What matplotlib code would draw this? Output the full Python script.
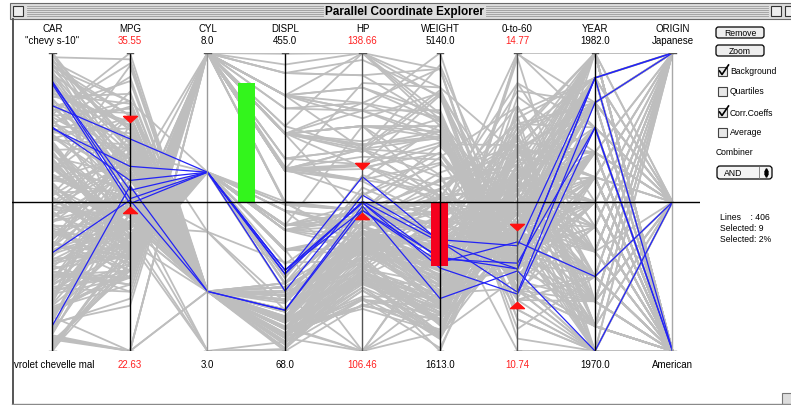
import numpy as np
import matplotlib.pyplot as plt
from matplotlib.patches import Rectangle, FancyBboxPatch
from matplotlib.collections import LineCollection

nan = np.nan

# cars table, one list per column, rows in dataset order (grouped by model year)
mpg = [18, 15, 18, 16, 17, 15, 14, 14, nan, nan, nan, nan, 24, 22, 21, 27, 26, 25, 26, 10, 9,
       27, 28, 25, nan, 19, 16, 14, 14, 14, 12, 13, 18, 22, 30, 31, 35,
       24, 23, 21, 13, 15, 14, 17, 11, 13, 19, 18, 21, 26, 28, 23,
       13, 14, 12, 13, 12, 18, 16, 23, 11, 18, 20, 18, 21, 16, 29, 26, 20, 24,
       20, 21, 31, 26, 32, 16, 13, 14, 29, 31, 24, 26,
       19, 15, 16, 14, 17, 21, 20, 13, 29, 23, 24, 33,
       28, 25, 17.5, 15.5, 14.5, 22, 24, 29, 20, 29.5, 32, 20, 19, 16.5, 16.5,
       31.5, 36, 25.5, 17.5, 17, 15, 20.5, 18.5, 16, 15.5, 29, 24.5, 30.5, 22, 21.5, 21.5,
       43.1, 36.1, 39.4, 19.9, 20.2, 19.2, 20.5, 25.1, 18.6, 17.7, 17.5, 27.5, 23.2, 20.3, 17, 16.2, 31.5,
       21.5, 22.3, 17, 16.5, 16.9, 18.5, 31.9, 35.7, 25.4, 27.2, 23.9, 34.2, 37.3, 28.4, 28.8, 26.8, 33.5,
       41.5, 38.1, 28, 24.3, 19.1, 29.8, 37, 46.6, 27.9, 43.4, 36.4, 30, 40.9, 32.7, 23.7, 23.6, 32.4,
       27.2, 25.8, 39.1, 35.1, 37.7, 34.7, 29.9, 34.5, 32.9, 28.1, 30.7, 23.5, 25.4, 24.2, 22.4, 26.6, 17.6,
       28, 34, 29, 24, 36, 31, 38, 36, 34, 25, 38, 32, 27, 44, 32, 28, 31]
cyl = [8, 8, 8, 8, 8, 8, 8, 8, 4, 8, 8, 8, 4, 6, 6, 4, 4, 4, 4, 8, 8,
       4, 4, 4, 4, 6, 6, 8, 8, 8, 8, 8, 6, 4, 4, 4, 4,
       4, 4, 4, 8, 8, 8, 8, 8, 8, 3, 4, 4, 4, 4, 4,
       8, 8, 8, 8, 8, 6, 6, 6, 8, 6, 4, 3, 6, 8, 4, 4, 6, 4,
       6, 6, 4, 4, 4, 6, 8, 8, 4, 4, 4, 4,
       6, 6, 8, 8, 6, 6, 8, 8, 4, 4, 4, 4,
       4, 4, 8, 8, 8, 6, 6, 4, 6, 4, 4, 4, 6, 6, 8,
       4, 4, 4, 8, 8, 8, 6, 6, 8, 8, 4, 4, 4, 6, 4, 3,
       4, 4, 4, 8, 8, 6, 6, 4, 6, 6, 8, 4, 4, 5, 6, 6, 4,
       6, 4, 8, 8, 8, 8, 4, 4, 5, 4, 8, 4, 4, 4, 6, 6, 4,
       4, 4, 4, 4, 6, 4, 4, 4, 4, 4, 5, 4, 4, 6, 3, 4, 4,
       4, 4, 4, 4, 4, 4, 4, 4, 4, 4, 6, 6, 6, 6, 6, 8, 6,
       4, 4, 4, 4, 4, 4, 4, 4, 4, 6, 6, 4, 4, 4, 4, 4, 4]
displ = [307, 350, 318, 304, 302, 429, 454, 455, 133, 350, 383, 302, 113, 198, 200, 97, 97, 110, 121, 360, 304,
         97, 140, 98, 97, 232, 225, 350, 400, 351, 383, 400, 258, 140, 79, 71, 72,
         113, 97, 122, 350, 318, 351, 304, 429, 400, 70, 121, 120, 96, 97, 120,
         350, 302, 429, 440, 455, 225, 250, 198, 400, 232, 97, 70, 155, 400, 68, 98, 156, 121,
         198, 200, 79, 122, 71, 258, 350, 302, 98, 76, 120, 108,
         225, 250, 400, 351, 231, 231, 262, 302, 97, 140, 134, 91,
         107, 140, 305, 304, 351, 250, 200, 85, 225, 97, 85, 130, 156, 168, 350,
         98, 79, 122, 305, 260, 302, 231, 250, 400, 400, 97, 151, 98, 146, 121, 80,
         90, 98, 85, 260, 302, 231, 200, 140, 225, 231, 318, 134, 156, 131, 163, 163, 89,
         231, 140, 305, 351, 350, 360, 89, 98, 183, 141, 260, 105, 91, 151, 173, 173, 151,
         98, 89, 151, 151, 225, 134, 119, 86, 156, 90, 121, 146, 85, 168, 70, 140, 107,
         135, 156, 79, 81, 89, 105, 98, 100, 119, 141, 145, 173, 168, 146, 231, 350, 225,
         112, 112, 135, 140, 105, 91, 105, 120, 108, 181, 262, 144, 151, 97, 135, 120, 119]
hp = [130, 165, 150, 150, 140, 198, 220, 225, 115, 165, 175, 140, 95, 95, 85, 88, 46, 87, 113, 215, 193,
      88, 90, nan, 48, 100, 105, 165, 175, 153, 180, 175, 110, 72, 70, 65, 69,
      95, 54, 86, 165, 150, 153, 150, 208, 190, 97, 112, 87, 69, 92, 97,
      175, 137, 198, 215, 225, 105, 100, 95, 150, 100, 88, 90, 107, 230, 49, 90, 122, 110,
      95, nan, 67, 80, 65, 110, 150, 140, 83, 52, 97, 93,
      95, 72, 170, 148, 110, 110, 110, 129, 75, 83, 96, 53,
      86, 92, 140, 120, 152, 105, 81, 52, 100, 71, 70, 102, 108, 120, 180,
      68, 58, 96, 145, 110, 130, 105, 98, 180, 190, 78, 88, 63, 97, 110, 110,
      48, 66, 70, 110, 139, 105, 95, 88, 110, 165, 140, 95, 105, 103, 125, 133, 71,
      115, 88, 130, 138, 155, 150, 71, 80, 77, 71, 90, 70, 69, 90, 115, 115, 90,
      76, 60, 90, 90, 90, 90, 92, 65, 105, 48, 67, 67, nan, 132, 100, nan, 72,
      84, 92, 58, 60, 62, 63, 65, nan, 100, 80, 76, 110, 116, 120, 110, 105, 85,
      88, 88, 84, 92, 74, 68, 63, 88, 70, 110, 85, 96, 90, 52, 84, 79, 82]
weight = [3504, 3693, 3436, 3433, 3449, 4341, 4354, 4425, 3090, 4142, 4166, 3353, 2372, 2833, 2587, 2130, 1835, 2672, 2234, 4615, 4732,
          2130, 2264, 2046, 1978, 2634, 3439, 4209, 4464, 4154, 4955, 5140, 2962, 2408, 2074, 1773, 1613,
          2278, 2254, 2226, 4274, 4135, 4129, 3672, 4633, 4422, 2330, 2933, 2979, 2189, 2288, 2506,
          4100, 4042, 4952, 4735, 4951, 3121, 3278, 2904, 4997, 2789, 2279, 2124, 2472, 4278, 1867, 2265, 2807, 2660,
          3102, 2875, 1950, 2451, 1836, 3632, 4699, 4638, 2219, 1649, 2489, 2391,
          3264, 3432, 4668, 4657, 3907, 3039, 3221, 3169, 2171, 2639, 2702, 1795,
          2464, 2572, 4215, 3962, 4215, 3353, 3012, 2035, 3651, 1825, 1990, 3150, 2930, 3820, 4380,
          2045, 1825, 2300, 3880, 4060, 4295, 3425, 3525, 4220, 4325, 1940, 2740, 2051, 2815, 2600, 2720,
          1985, 1800, 2070, 3365, 3570, 3535, 3155, 2720, 3620, 3445, 4080, 2560, 2745, 2830, 3140, 3410, 1990,
          3245, 2890, 3840, 3955, 4360, 3940, 1925, 1915, 3530, 3190, 3420, 2200, 2130, 2670, 2595, 2700, 2556,
          2144, 1968, 2678, 3003, 3381, 2711, 2434, 2110, 2800, 2335, 2950, 3250, 1835, 2910, 2420, 2905, 2290,
          2490, 2620, 1755, 1760, 2050, 2215, 2380, 2320, 2615, 3230, 3160, 2725, 2900, 2930, 3415, 3725, 3465,
          2605, 2395, 2525, 2865, 1980, 1970, 2125, 2160, 2245, 2945, 3015, 2665, 2950, 2130, 2295, 2625, 2720]
accel = [12, 11.5, 11, 12, 10.5, 10, 9, 10, 17.5, 11.5, 10.5, 8, 15, 15.5, 16, 14.5, 20.5, 17.5, 12.5, 14, 18.5,
         14.5, 15.5, 19, 20, 13, 15.5, 12, 11.5, 13.5, 11.5, 12, 13.5, 19, 19.5, 19, 18,
         15.5, 23.5, 16.5, 12, 13.5, 13, 11.5, 11, 12.5, 13.5, 14.5, 19.5, 18, 17, 14.5,
         13, 14.5, 11.5, 11, 11, 16.5, 18, 16, 14, 15, 19, 13.5, 14, 9.5, 19.5, 15.5, 13.5, 14,
         16.5, 17, 19, 16.5, 21, 18, 14.5, 16, 16.5, 16.5, 15, 15.5,
         16, 21, 11.5, 13.5, 21, 15, 13.5, 12, 16, 17, 13.5, 17.5,
         15.5, 14.9, 13, 13.9, 12.8, 14.5, 17.6, 22.2, 17.7, 12.2, 17, 15.7, 15.5, 16.7, 12.1,
         18.5, 18.6, 15.5, 12.5, 19, 14.9, 16.9, 19, 11.1, 12.2, 14.5, 16, 17, 14.5, 12.8, 13.5,
         21.5, 14.4, 18.6, 15.5, 12.8, 19.2, 18.2, 15.4, 18.7, 13.4, 13.7, 14.2, 16.7, 15.9, 13.6, 15.8, 14.9,
         15.4, 17.3, 15.4, 13.2, 14.9, 13, 14, 14.4, 20.1, 24.8, 22.2, 13.2, 14.7, 16, 11.3, 12.9, 13.2,
         14.7, 18.8, 16.5, 20.1, 18.7, 15.5, 15, 17.9, 14.4, 23.7, 19.9, 21.8, 17.3, 11.4, 12.5, 14.3, 17,
         15.7, 14.4, 16.9, 16.1, 17.3, 14.9, 20.7, 15.8, 14.8, 20.4, 19.6, 12.6, 12.6, 13.8, 15.8, 19, 16.6,
         19.6, 18, 16, 16.4, 15.3, 17.6, 14.7, 14.5, 16.9, 16.4, 17, 13.9, 17.3, 24.6, 11.6, 18.6, 19.4]
origin = [1, 1, 1, 1, 1, 1, 1, 1, 2, 1, 1, 1, 3, 1, 1, 3, 2, 2, 2, 1, 1,
          3, 1, 1, 2, 1, 1, 1, 1, 1, 1, 1, 1, 1, 2, 3, 3,
          3, 2, 1, 1, 1, 1, 1, 1, 1, 3, 2, 2, 2, 3, 3,
          1, 1, 1, 1, 1, 1, 1, 1, 1, 1, 3, 3, 1, 1, 2, 2, 3, 2,
          1, 1, 3, 1, 3, 1, 1, 1, 2, 3, 3, 3,
          1, 1, 1, 1, 1, 1, 1, 1, 3, 1, 3, 3,
          2, 1, 1, 1, 1, 1, 1, 1, 1, 2, 3, 2, 3, 2, 1,
          3, 2, 1, 1, 1, 1, 1, 1, 1, 1, 2, 1, 1, 3, 2, 3,
          2, 1, 3, 1, 1, 1, 1, 1, 1, 1, 1, 3, 1, 2, 2, 2, 2,
          1, 1, 1, 1, 1, 1, 2, 1, 2, 2, 1, 1, 2, 1, 1, 1, 1,
          2, 3, 1, 1, 1, 3, 3, 3, 1, 2, 2, 2, 2, 3, 3, 1, 3,
          1, 1, 3, 3, 3, 1, 1, 2, 3, 2, 2, 1, 3, 3, 1, 1, 1,
          1, 1, 1, 1, 2, 3, 1, 3, 3, 1, 1, 3, 1, 2, 1, 1, 1]
model_years = [70, 71, 72, 73, 74, 75, 76, 77, 78, 79, 80, 81, 82]
cars_per_year = [21, 16, 15, 18, 12, 12, 15, 16, 17, 17, 17, 17, 17]
year = np.repeat(model_years, cars_per_year)

axis_names = ["CAR", "MPG", "CYL", "DISPL", "HP", "WEIGHT", "0-to-60", "YEAR", "ORIGIN"]
top_labels = ['"chevy s-10"', "35.55", "8.0", "455.0", "138.66", "5140.0", "14.77", "1982.0", "Japanese"]
bottom_labels = ["vrolet chevelle mal", "22.63", "3.0", "68.0", "106.46", "1613.0", "10.74", "1970.0", "American"]
label_is_red = [False, True, False, False, True, False, True, False, False]
axis_lo = [0, 2.57, 3, 68, 18.6, 1613, 8.36, 70, 1]
axis_hi = [None, 44.9, 8, 455, 212.5, 5140, 23.76, 82, 3]

# brushes (red triangles): axis, low, high
brush_axis = [1, 4, 6]
brush_lo = [22.63, 106.46, 10.74]
brush_hi = [35.55, 138.66, 14.77]

# correlation coefficient bars
corr_pos = [2.5, 5.0]
corr_val = [0.80, -0.43]
corr_col = ["#33f51c", "#f5001e"]

plt.rcParams["font.family"] = ["Liberation Sans", "DejaVu Sans"]

cols = [mpg, cyl, displ, hp, weight, accel, year, origin]
n = len(mpg)
assert all(len(c) == n for c in cols), [len(c) for c in cols]

table = np.column_stack([np.arange(n)] + [np.asarray(c, float) for c in cols])
lo = np.array(axis_lo, float)
hi = np.array([n - 1] + axis_hi[1:], float)
norm = (table - lo) / (hi - lo)
norm = np.nan_to_num(np.clip(norm, 0, 1), nan=0.0)

sel = np.ones(n, bool)
for a, b0, b1 in zip(brush_axis, brush_lo, brush_hi):
    v = table[:, a]
    sel &= (v >= b0) & (v <= b1)

xs = np.arange(len(axis_names))

fig = plt.figure(figsize=(7.91, 4.06), dpi=100)

# window chrome in pixel coordinates
ui = fig.add_axes([0, 0, 1, 1], zorder=0)
ui.set_xlim(0, 791)
ui.set_ylim(406, 0)
ui.axis("off")
ui.add_patch(Rectangle((10, 4), 785, 16, fc="#dddddd", ec="#6a6a6a", lw=0.8))
for yy in range(7, 18, 2):
    ui.plot([27, 323], [yy, yy], color="#9c9c9c", lw=0.6)
    ui.plot([486, 768], [yy, yy], color="#9c9c9c", lw=0.6)
ui.add_patch(Rectangle((13, 7), 10, 10, fc="#eeeeee", ec="#333333", lw=0.8))
ui.add_patch(Rectangle((771, 7), 10, 10, fc="#eeeeee", ec="#333333", lw=0.8))
ui.add_patch(Rectangle((785, 7), 10, 10, fc="#eeeeee", ec="#333333", lw=0.8))
ui.text(404, 12.5, "Parallel Coordinate Explorer", ha="center", va="center",
        fontsize=8.5, fontweight="bold")
ui.plot([12.5, 12.5], [20, 406], color="#555555", lw=1.4)
ui.plot([12, 791], [404.5, 404.5], color="#8a8a8a", lw=1)
ui.add_patch(Rectangle((782, 394), 10, 12, fc="#dddddd", ec="#777777", lw=0.8))

# control panel
for label, y0 in [("Remove", 28), ("Zoom", 46)]:
    ui.add_patch(FancyBboxPatch((716, y0), 48, 11, boxstyle="round,pad=0,rounding_size=2.5",
                                fc="#eeeeee", ec="black", lw=0.9))
    ui.text(740, y0 + 5.7, label, ha="center", va="center", fontsize=6.2)
for label, y0, checked in [("Background", 72, True), ("Quartiles", 92, False),
                           ("Corr.Coeffs", 113, True), ("Average", 133, False)]:
    ui.add_patch(Rectangle((718, y0 - 4.5), 9, 9, fc="#e8e8e8", ec="#444444", lw=0.8))
    if checked:
        ui.plot([719.5, 722, 728.5], [y0, y0 + 3.5, y0 - 6], color="black", lw=1.2)
    ui.text(730, y0, label, ha="left", va="center", fontsize=6.2)
ui.text(716, 153, "Combiner", ha="left", va="center", fontsize=6.2)
ui.add_patch(FancyBboxPatch((717, 167), 55, 13, boxstyle="round,pad=0,rounding_size=3",
                            fc="#f4f4f4", ec="black", lw=0.9))
ui.text(724, 173.5, "AND", ha="left", va="center", fontsize=6.2)
ui.plot([759, 759], [168, 179], color="#777777", lw=0.6)
ui.plot([765.5], [171.3], marker="^", ms=2.6, color="black")
ui.plot([765.5], [176], marker="v", ms=2.6, color="black")
ui.text(720, 218, "Lines    : 406", ha="left", va="center", fontsize=6.2)
ui.text(720, 229, "Selected: 9", ha="left", va="center", fontsize=6.2)
ui.text(720, 240, "Selected: 2%", ha="left", va="center", fontsize=6.2)

# parallel coordinates, axis i at x = i, values normalised to 0..1
x0, dx = 52.5, 77.5
ax = fig.add_axes([12 / 791, (406 - 352) / 406, (700 - 12) / 791, 298 / 406], zorder=1)
ax.set_xlim((12 - x0) / dx, (700 - x0) / dx)
ax.set_ylim(0, 1)
ax.axis("off")
ax.patch.set_alpha(0)

bg = [np.column_stack([xs, row]) for row in norm[~sel]]
ax.add_collection(LineCollection(bg, colors="#bebebe", lw=1.3, zorder=1))
fg = [np.column_stack([xs, row]) for row in norm[sel]]
ax.add_collection(LineCollection(fg, colors="#2323f5", lw=0.9, zorder=2))

ax.bar(corr_pos, [v * 0.5 for v in corr_val], bottom=0.5, width=17 / dx,
       color=corr_col, zorder=3)

axis_col = ["black", "black", "#9a9a9a", "black", "#555555", "black", "#555555", "black", "#a8a8a8"]
for i in xs:
    ax.plot([i, i], [0, 1], color=axis_col[i], lw=1, zorder=4)
    for yy in (0, 1):
        ax.plot([i - 0.04, i + 0.04], [yy, yy], color="#555555", lw=1, zorder=4)
ax.axhline(0.5, color="black", lw=1, zorder=4)

tri_down = [(-1, 0.45), (1, 0.45), (0, -0.45), (-1, 0.45)]
tri_up = [(-1, -0.45), (1, -0.45), (0, 0.45), (-1, -0.45)]
for a, b0, b1 in zip(brush_axis, brush_lo, brush_hi):
    ax.plot(a, (b1 - lo[a]) / (hi[a] - lo[a]), marker=tri_down, ms=10, color="#ff1010", zorder=5)
    ax.plot(a, (b0 - lo[a]) / (hi[a] - lo[a]), marker=tri_up, ms=10, color="#ff1010", zorder=5)

for i in xs:
    c = "#ff2020" if label_is_red[i] else "black"
    ax.text(i, (352 - 29) / 298, axis_names[i], ha="center", va="center", fontsize=7, clip_on=False)
    ax.text(i, (352 - 41) / 298, top_labels[i], ha="center", va="center", fontsize=7,
            color=c, clip_on=False)
    if i == 0:
        ax.text((14 - x0) / dx, (352 - 365) / 298, bottom_labels[i], ha="left", va="center",
                fontsize=7, clip_on=False)
    else:
        ax.text(i, (352 - 365) / 298, bottom_labels[i], ha="center", va="center", fontsize=7,
                color=c, clip_on=False)

fig.savefig("out.png", dpi=100)
